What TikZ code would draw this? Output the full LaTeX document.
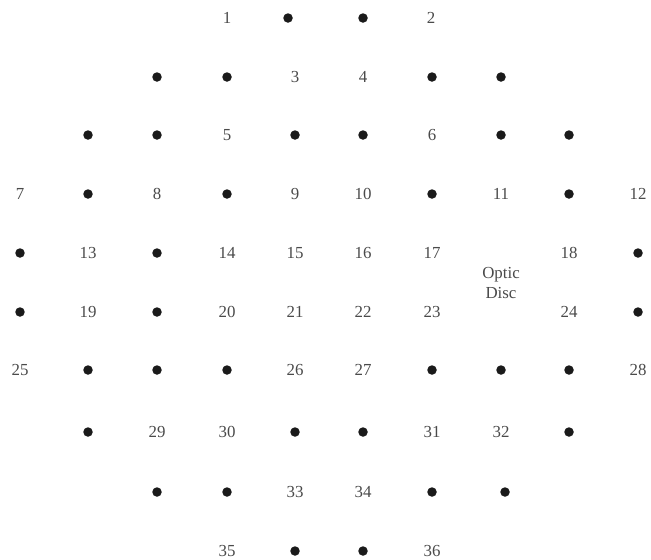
\documentclass[tikz,border=0pt]{standalone}
\usepackage{fontspec}
\setmainfont{Liberation Serif}
\usepackage{tikz}
\definecolor{PointGray}{HTML}{4A4A4A}
\definecolor{SpotBlack}{HTML}{1A1A1A}

\begin{document}
\begin{tikzpicture}[
    x=0.02cm, y=-0.02cm,
    every node/.style={font=\fontsize{9.6}{11}\selectfont, text=PointGray, inner sep=0pt},
    spot/.style={circle, fill=SpotBlack, minimum size=0.19cm, inner sep=0pt}
]
\useasboundingbox (0,0) rectangle (651,559);
% row 1
\node (l1) at (227,18) {1};
\node[spot] (d1-4) at (288,18) {};
\node[spot] (d1-5) at (363,18) {};
\node (l2) at (431,18) {2};
% row 2
\node[spot] (d2-3) at (157,77) {};
\node[spot] (d2-4) at (227,77) {};
\node (l3) at (295,77) {3};
\node (l4) at (363,77) {4};
\node[spot] (d2-7) at (432,77) {};
\node[spot] (d2-8) at (501,77) {};
% row 3
\node[spot] (d3-2) at (88,135) {};
\node[spot] (d3-3) at (157,135) {};
\node (l5) at (227,135) {5};
\node[spot] (d3-5) at (295,135) {};
\node[spot] (d3-6) at (363,135) {};
\node (l6) at (432,135) {6};
\node[spot] (d3-8) at (501,135) {};
\node[spot] (d3-9) at (569,135) {};
% row 4
\node (l7) at (20,194) {7};
\node[spot] (d4-2) at (88,194) {};
\node (l8) at (157,194) {8};
\node[spot] (d4-4) at (227,194) {};
\node (l9) at (295,194) {9};
\node (l10) at (363,194) {10};
\node[spot] (d4-7) at (432,194) {};
\node (l11) at (501,194) {11};
\node[spot] (d4-9) at (569,194) {};
\node (l12) at (638,194) {12};
% row 5
\node[spot] (d5-1) at (20,253) {};
\node (l13) at (88,253) {13};
\node[spot] (d5-3) at (157,253) {};
\node (l14) at (227,253) {14};
\node (l15) at (295,253) {15};
\node (l16) at (363,253) {16};
\node (l17) at (432,253) {17};
\node (l18) at (569,253) {18};
\node[spot] (d5-10) at (638,253) {};
% optic disc
\node[align=center, font=\fontsize{9.6}{11}\selectfont] (disc) at (501,283) {Optic\\Disc};
% row 6
\node[spot] (d6-1) at (20,312) {};
\node (l19) at (88,312) {19};
\node[spot] (d6-3) at (157,312) {};
\node (l20) at (227,312) {20};
\node (l21) at (295,312) {21};
\node (l22) at (363,312) {22};
\node (l23) at (432,312) {23};
\node (l24) at (569,312) {24};
\node[spot] (d6-10) at (638,312) {};
% row 7
\node (l25) at (20,370) {25};
\node[spot] (d7-2) at (88,370) {};
\node[spot] (d7-3) at (157,370) {};
\node[spot] (d7-4) at (227,370) {};
\node (l26) at (295,370) {26};
\node (l27) at (363,370) {27};
\node[spot] (d7-7) at (432,370) {};
\node[spot] (d7-8) at (501,370) {};
\node[spot] (d7-9) at (569,370) {};
\node (l28) at (638,370) {28};
% row 8
\node[spot] (d8-2) at (88,432) {};
\node (l29) at (157,432) {29};
\node (l30) at (227,432) {30};
\node[spot] (d8-5) at (295,432) {};
\node[spot] (d8-6) at (363,432) {};
\node (l31) at (432,432) {31};
\node (l32) at (501,432) {32};
\node[spot] (d8-9) at (569,432) {};
% row 9
\node[spot] (d9-3) at (157,492) {};
\node[spot] (d9-4) at (227,492) {};
\node (l33) at (295,492) {33};
\node (l34) at (363,492) {34};
\node[spot] (d9-7) at (432,492) {};
\node[spot] (d9-8) at (505,492) {};
% row 10
\node (l35) at (227,551) {35};
\node[spot] (d10-5) at (295,551) {};
\node[spot] (d10-6) at (363,551) {};
\node (l36) at (432,551) {36};
\end{tikzpicture}
\end{document}
